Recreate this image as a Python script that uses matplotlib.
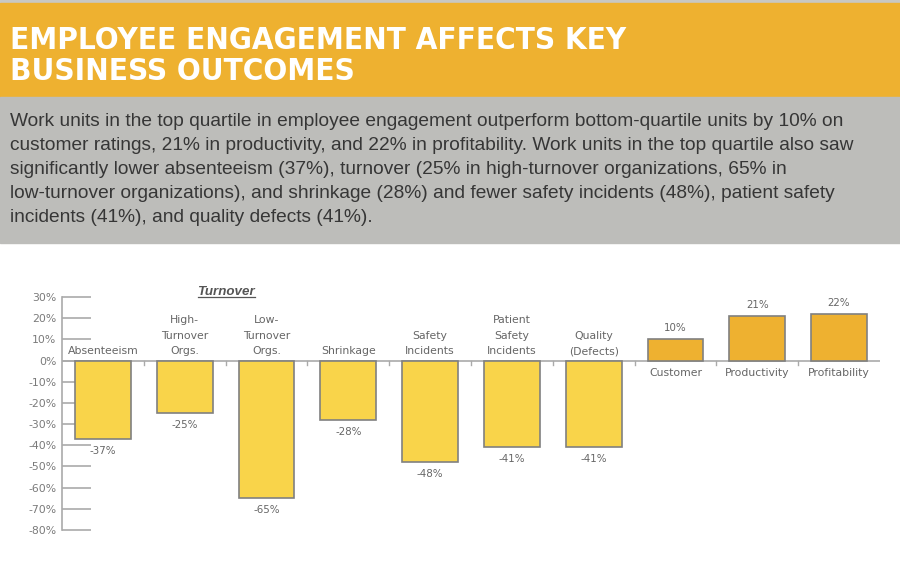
import matplotlib
matplotlib.use("Agg")
import matplotlib.pyplot as plt
from matplotlib.patches import Rectangle
import numpy as np

categories = ["Absenteeism", "High-\nTurnover\nOrgs.", "Low-\nTurnover\nOrgs.", "Shrinkage",
              "Safety\nIncidents", "Patient\nSafety\nIncidents", "Quality\n(Defects)",
              "Customer", "Productivity", "Profitability"]
values = [-37, -25, -65, -28, -48, -41, -41, 10, 21, 22]
yticks = [30, 20, 10, 0, -10, -20, -30, -40, -50, -60, -70, -80]

title = "EMPLOYEE ENGAGEMENT AFFECTS KEY\nBUSINESS OUTCOMES"
body_lines = [
    "Work units in the top quartile in employee engagement outperform bottom-quartile units by 10% on",
    "customer ratings, 21% in productivity, and 22% in profitability. Work units in the top quartile also saw",
    "significantly lower absenteeism (37%), turnover (25% in high-turnover organizations, 65% in",
    "low-turnover organizations), and shrinkage (28%) and fewer safety incidents (48%), patient safety",
    "incidents (41%), and quality defects (41%).",
]

W, H = 900, 572
fig = plt.figure(figsize=(9, 5.72), dpi=100)
fig.patch.set_facecolor("white")

def fy(py):
    return 1 - py / H

# banners
fig.patches.append(Rectangle((0, fy(3)), 1, 3 / H, transform=fig.transFigure, color="#c8c8c4", zorder=0))
fig.patches.append(Rectangle((0, fy(97)), 1, 94 / H, transform=fig.transFigure, color="#eeb130", zorder=0))
fig.patches.append(Rectangle((0, fy(243)), 1, 146 / H, transform=fig.transFigure, color="#bdbdba", zorder=0))

fig.text(10 / W, fy(56), title, color="white", fontsize=22.5, fontweight="bold",
         fontstretch="condensed", family=["DejaVu Sans"], va="center", ha="left", linespacing=1.08)

for i, line in enumerate(body_lines):
    fig.text(10 / W, fy(122 + i * 24), line, color="#363636", fontsize=13.8,
             family=["Liberation Sans", "DejaVu Sans"], va="center", ha="left")

ax = fig.add_axes([62 / W, fy(530), (880 - 62) / W, (530 - 297) / H])
x = np.arange(len(categories))
colors = ["#f9d44a" if v < 0 else "#eeb130" for v in values]
ax.bar(x, values, width=0.68, color=colors, edgecolor="#808080", linewidth=1.2, zorder=3)
ax.set_xlim(-0.5, len(categories) - 0.5)
ax.set_ylim(-80, 30)

for s in ["top", "right", "bottom"]:
    ax.spines[s].set_visible(False)
ax.spines["left"].set_color("#aaaaaa")
ax.spines["left"].set_linewidth(1.2)
ax.axhline(0, color="#aaaaaa", linewidth=1.2, zorder=2)

ax.set_yticks(yticks)
ax.set_yticklabels([f"{t}%" for t in yticks], fontsize=7.8, color="#7a7a7a",
                   family=["DejaVu Sans"])
ax.tick_params(axis="y", direction="in", length=21, width=1.2, color="#aaaaaa", pad=4)
ax.set_xticks([])

# small ticks on zero line between categories
for b in np.arange(0.5, len(categories) - 0.5, 1.0):
    ax.plot([b, b], [0, -2.3], color="#aaaaaa", linewidth=1, zorder=2)

tkw = dict(fontsize=7.8, color="#666666", family=["DejaVu Sans"], ha="center")
vkw = dict(fontsize=7.4, color="#666666", family=["DejaVu Sans"], ha="center")
for xi, cat, v in zip(x, categories, values):
    if v < 0:
        ax.text(xi, 2.0, cat, va="bottom", linespacing=1.7, **tkw)
        ax.text(xi, v - 3.2, f"{v}%", va="top", **vkw)
    else:
        ax.text(xi, -3.6, cat, va="top", **tkw)
        ax.text(xi, v + 3.0, f"{v}%", va="bottom", **vkw)

ax.text(1.5, 29.6, "Turnover", fontsize=9.6, color="#555555", fontweight="bold", fontstyle="italic",
        family=["Liberation Sans", "DejaVu Sans"], ha="center", va="bottom", clip_on=False)
ax.plot([1.16, 1.86], [29.8, 29.8], color="#555555", linewidth=0.9, clip_on=False)

fig.savefig("out.png", dpi=100, facecolor="white")
